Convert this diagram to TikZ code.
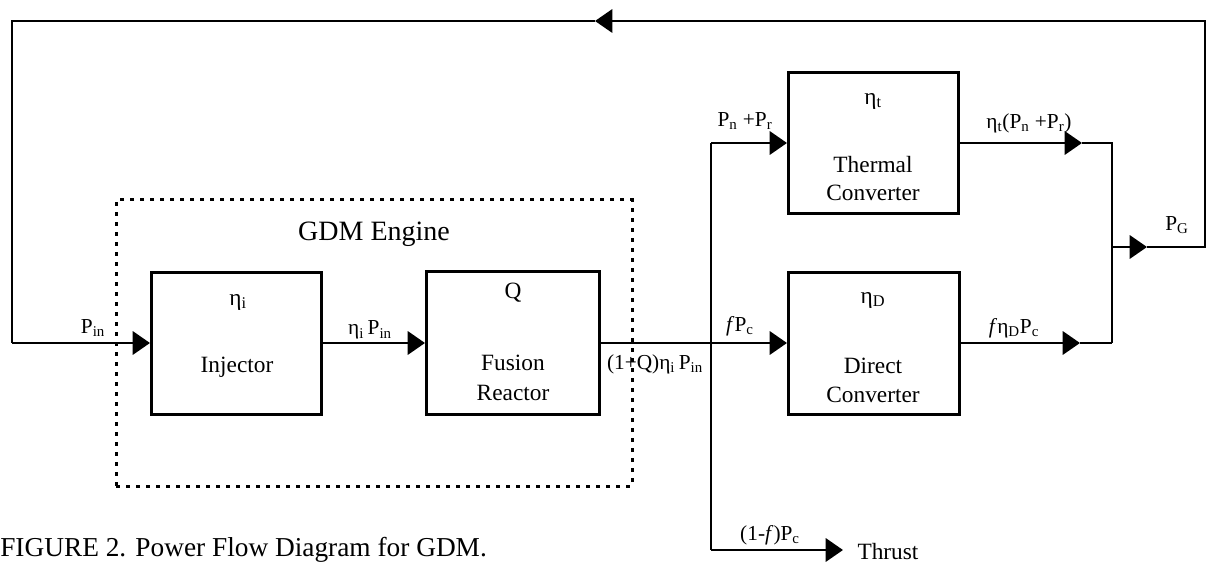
\documentclass[tikz,border=0pt]{standalone}
\usepackage{fontspec}
\setmainfont{Liberation Serif}
\usetikzlibrary{arrows.meta}
\newcommand{\sbs}[1]{\textsubscript{#1}}
\begin{document}
\begin{tikzpicture}[x=0.75pt,y=-0.75pt,
  box/.style={draw, line width=2.25pt, minimum width=127.5pt, minimum height=106.5pt, inner sep=0pt},
  conn/.style={line width=1.9pt, line join=miter},
  arr/.style={conn, -{Triangle[length=13pt,width=17.5pt]}},
  boxtxt/.style={font=\fontsize{17.5}{19}\selectfont, inner sep=0pt},
  lbl/.style={font=\fontsize{16}{18}\selectfont, inner sep=0pt},
  dotbox/.style={draw, line width=2.25pt, dash pattern=on 3pt off 4.5pt, minimum width=387pt, minimum height=214.5pt, inner sep=0pt}]
\useasboundingbox (0,0) rectangle (1207,563);

% engine frame
\node[dotbox] (eng) at (374,343) {};
\node[font=\fontsize{21}{23}\selectfont, inner sep=0pt] (engl) at (374,234) {GDM Engine};

% blocks
\node[box] (inj) at (236.5,343) {};
\node[box, minimum width=129.75pt, minimum height=107.25pt] (fus) at (513,343) {};
\node[box, minimum height=105.75pt] (th) at (873.5,143) {};
\node[box, minimum width=128.25pt] (dc) at (874,343) {};

% block texts
\node[boxtxt] (injeta) at (238,302) {η\sbs{i}};
\node[boxtxt] (injt) at (237,367) {Injector};
\node[boxtxt] (fusq) at (513,293) {Q};
\node[boxtxt] (fust1) at (513,363) {Fusion};
\node[boxtxt] (fust2) at (513,393) {Reactor};
\node[boxtxt] (theta) at (873,101) {η\sbs{t}};
\node[boxtxt] (tht1) at (873,165) {Thermal};
\node[boxtxt] (tht2) at (873,193) {Converter};
\node[boxtxt] (dceta) at (873,300) {η\sbs{D}};
\node[boxtxt] (dct1) at (873,366) {Direct};
\node[boxtxt] (dct2) at (873,395) {Converter};

% junction coordinates
\coordinate (split) at (711,343);
\coordinate (splitT) at (711,143);
\coordinate (splitB) at (711,550);
\coordinate (thrustTip) at (843,550);
\coordinate (thTip) at (1082,143);
\coordinate (thCorner) at (1112,143);
\coordinate (dcTip) at (1080,343);
\coordinate (dcCorner) at (1112,343);
\coordinate (pgStart) at (1112,247);
\coordinate (pgTip) at (1147,247);
\coordinate (fbR) at (1205,247);
\coordinate (fbTR) at (1205,21);
\coordinate (fbTip) at (595,21);
\coordinate (fbTL) at (12,21);
\coordinate (fbBL) at (12,343);

% connectors
\draw[arr] (fbBL) -- (inj.west);
\draw[arr] (inj.east) -- (fus.west);
\draw[conn] (fus.east) -- (split);
\draw[arr] (split) -- (dc.west);
\draw[conn] (splitT) -- (splitB);
\draw[arr] (splitT) -- (th.west);
\draw[arr] (splitB) -- (thrustTip);
\draw[arr] (th.east) -- (thTip);
\draw[conn] (thTip) -- (thCorner) -- (dcCorner);
\draw[arr] (dc.east) -- (dcTip);
\draw[conn] (dcTip) -- (dcCorner);
\draw[arr] (pgStart) -- (pgTip);
\draw[arr] (pgTip) -- (fbR) -- (fbTR) -- (fbTip);
\draw[conn] (fbTip) -- (fbTL) -- (fbBL);

% labels
\node[lbl] (lpin) at (93,328) {P\sbs{in}};
\node[lbl] (lipin) at (370,330) {η\sbs{i}\,P\sbs{in}};
\node[lbl] (lout) at (655,364) {(1+Q)η\sbs{i}\,P\sbs{in}};
\node[lbl] (lpnr) at (745,121) {P\sbs{n} +P\sbs{r}};
\node[lbl] (lth) at (1029,123) {η\sbs{t}(P\sbs{n} +P\sbs{r})};
\node[lbl] (lpg) at (1177,225) {P\sbs{G}};
\node[lbl] (lfpc) at (740,326) {\textit{f}P\sbs{c}};
\node[lbl] (ldc) at (1014,328) {\textit{f}η\sbs{D}P\sbs{c}};
\node[lbl] (lthr) at (770,535) {(1-\textit{f})P\sbs{c}};
\node[boxtxt] (thrust) at (888,552) {Thrust};

% caption
\node[anchor=base west, font=\fontsize{20.5}{22}\selectfont, inner sep=0pt] (cap) at (0,556) {FIGURE 2. Power Flow Diagram for GDM.};
\end{tikzpicture}
\end{document}
